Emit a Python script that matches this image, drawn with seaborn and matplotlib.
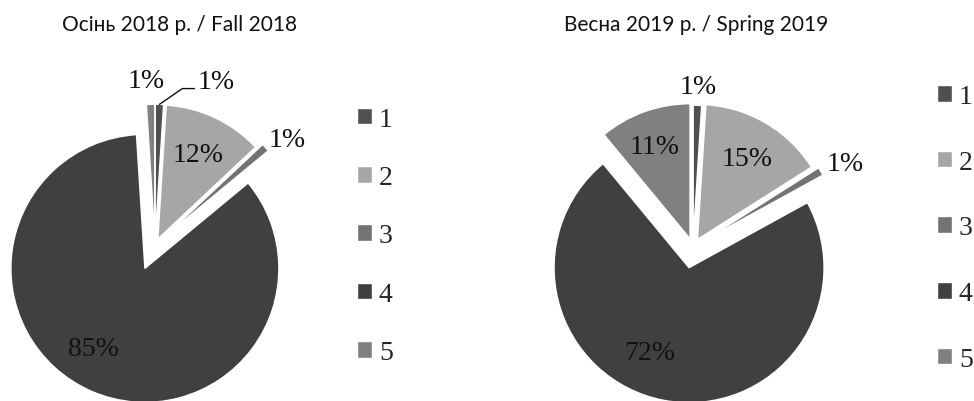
import numpy as np
import matplotlib
matplotlib.use('Agg')
import matplotlib.pyplot as plt
import seaborn as sns

# data
categories = ['1', '2', '3', '4', '5']
fall_2018 = [1, 12, 1, 85, 1]
spring_2019 = [1, 15, 1, 72, 11]
titles = ['Осінь 2018 р. / Fall 2018', 'Весна 2019 р. / Spring 2019']
colors = ['#505050', '#a6a6a6', '#737373', '#404040', '#808080']

sns.set_theme(style='white')
plt.rcParams['font.family'] = ['Liberation Serif', 'DejaVu Serif']

W, H = 974, 402
fig = plt.figure(figsize=(W / 100, H / 100), dpi=100)

# per pie layout: axes rect, pie centre (px inside axes, y from top), radius px,
# explode, label placement (distance, clockwise nudge in deg, extra shift)
layouts = [
    dict(values=fall_2018, rect=[0, 0, 0.5, 1], cx=155, cy=246, r=134,
         explode=[0.05, 0.05, 0.1, 0.19, 0.05],
         labels=[(1.17, 0, (0.42, 0.0)), (0.70, 0, None), (1.16, 3, None),
                 (0.715, 9.4, None), (1.176, -1.4, None)],
         leader=0, title_x=180, leg_x=357, leg_y=237, leg_space=1.2),
    dict(values=spring_2019, rect=[0.5, 0, 0.5, 1], cx=206, cy=248, r=135,
         explode=[0.05, 0.065, 0.1, 0.156, 0.065],
         labels=[(1.143, 0, None), (0.70, 1, None), (1.183, 2, None),
                 (0.689, 14, None), (0.734, -1, None)],
         leader=None, title_x=696, leg_x=937, leg_y=229, leg_space=1.46),
]

for lay, title in zip(layouts, titles):
    ax = fig.add_axes(lay['rect'])
    aw = lay['rect'][2] * W
    ah = lay['rect'][3] * H
    wedges, _ = ax.pie(lay['values'], colors=colors, explode=lay['explode'],
                       startangle=90, counterclock=False, radius=1,
                       wedgeprops=dict(edgecolor='white', linewidth=1))
    r = lay['r']
    ax.set_xlim(-lay['cx'] / r, (aw - lay['cx']) / r)
    ax.set_ylim(-(ah - lay['cy']) / r, lay['cy'] / r)
    ax.set_aspect('auto')
    ax.axis('off')

    for i, (w, v) in enumerate(zip(wedges, lay['values'])):
        dist, nudge, shift = lay['labels'][i]
        mid = (w.theta1 + w.theta2) / 2
        a = np.radians(mid - nudge)
        wx, wy = w.center
        tx = wx + dist * np.cos(a)
        ty = wy + dist * np.sin(a)
        if shift is not None:
            tx += shift[0]
            ty += shift[1]
        ax.text(tx, ty, f'{v}%', ha='center', va='center', fontsize=20,
                color='#111111')
        if lay['leader'] == i:
            am = np.radians(mid)
            px = wx + np.cos(am)
            py = wy + np.sin(am)
            ax.plot([px, tx - 0.254, tx - 0.164], [py, ty - 0.052, ty - 0.052],
                    color='#111111', lw=1)

    ax.legend(wedges, categories, loc='center left',
              bbox_to_anchor=(lay['leg_x'] / W, 1 - lay['leg_y'] / H),
              bbox_transform=fig.transFigure, frameon=False, fontsize=20,
              handlelength=0.54, handleheight=0.54, handletextpad=0.25,
              labelspacing=lay['leg_space'], borderpad=0, borderaxespad=0)

    fig.text(lay['title_x'] / W, 1 - 25 / H, title, ha='center', va='center',
             fontsize=15, family=['Lato', 'DejaVu Sans'], color='#111111')

fig.savefig('out.png', dpi=100)
